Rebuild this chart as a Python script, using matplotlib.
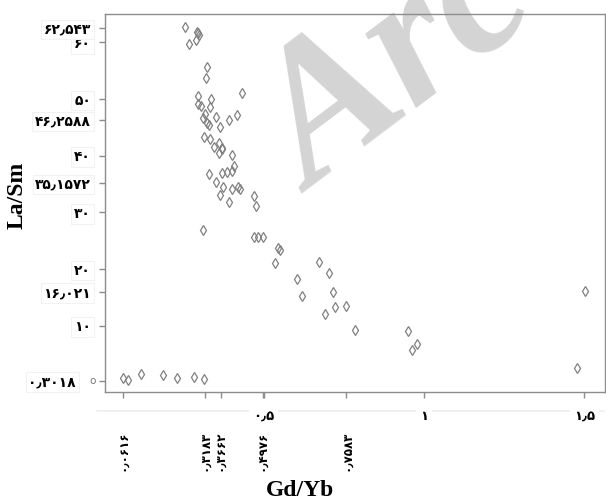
import matplotlib
matplotlib.use('Agg')
import matplotlib.pyplot as plt

plt.rcParams['font.family'] = ['DejaVu Sans']

# Gd/Yb vs La/Sm
gd_yb = [0.255, 0.294, 0.297, 0.300, 0.289, 0.269, 0.323, 0.320, 0.434, 0.297,
         0.336, 0.296, 0.305, 0.334, 0.319, 0.312, 0.352, 0.417, 0.393, 0.323,
         0.329, 0.364, 0.315, 0.333, 0.362, 0.347, 0.370, 0.372, 0.361, 0.401,
         0.408, 0.331, 0.372, 0.385, 0.403, 0.351, 0.375, 0.403, 0.420, 0.428,
         0.364, 0.470, 0.393, 0.476, 0.312,
         0.470, 0.484, 0.498, 0.546, 0.551, 0.536, 0.673, 0.705, 0.603, 0.716,
         0.619, 0.723, 0.757, 0.692, 0.785, 0.950, 0.962, 0.979, 1.477, 1.502,
         0.061, 0.077, 0.117, 0.188, 0.230, 0.284, 0.315]
la_sm = [62.65, 61.87, 61.59, 61.29, 60.41, 59.65, 55.59, 53.65, 51.01, 50.53,
         50.00, 49.12, 48.76, 48.64, 47.30, 46.59, 46.77, 47.23, 46.30, 45.82,
         45.36, 45.01, 43.35, 42.89, 42.29, 41.58, 41.30, 41.18, 40.42, 40.07,
         38.23, 36.72, 37.00, 37.17, 37.30, 35.30, 34.53, 34.12, 34.53, 34.12,
         33.06, 32.94, 31.88, 31.12, 26.90,
         25.71, 25.71, 25.60, 23.66, 23.36, 21.12, 21.30, 19.25, 18.24, 16.00,
         15.30, 13.25, 13.48, 12.01, 9.19, 9.07, 5.66, 6.72, 2.54, 16.13,
         0.72, 0.42, 1.48, 1.31, 0.72, 0.90, 0.55]

y_ticks = [0.3018, 10, 16.021, 20, 30, 35.1572, 40, 46.2588, 50, 60, 62.543]
y_labels = ['۰٫۳۰۱۸', '۱۰', '۱۶٫۰۲۱', '۲۰', '۳۰', '۳۵٫۱۵۷۲', '۴۰', '۴۶٫۲۵۸۸',
            '۵۰', '۶۰', '۶۲٫۵۴۳']
x_ticks_rot = [0.0616, 0.3183, 0.3662, 0.4976, 0.7583]
x_labels_rot = ['۰٫۰۶۱۶', '۰٫۳۱۸۳', '۰٫۳۶۶۲', '۰٫۴۹۷۶', '۰٫۷۵۸۳']
x_ticks_main = [0.5, 1, 1.5]
x_labels_main = ['۰٫۵', '۱', '۱٫۵']

fig = plt.figure(figsize=(6.06, 5.03), dpi=100)
ax = fig.add_axes([105 / 606, 111 / 503, 500 / 606, 378 / 503])

ax.plot(gd_yb, la_sm, linestyle='none', marker='d', markersize=4.6,
        markerfacecolor='none', markeredgecolor='#808080', markeredgewidth=0.9, zorder=2)

ax.set_xlim(0.006, 1.564)
ax.set_ylim(-1.7, 65.0)

for s in ax.spines.values():
    s.set_color('#8c8c8c')
    s.set_linewidth(1.0)

ax.set_yticks(y_ticks)
ax.set_yticklabels(y_labels, fontsize=10, fontweight='bold')
for lab in ax.get_yticklabels():
    lab.set_bbox(dict(facecolor='white', edgecolor='#f2f2f2', linewidth=0.8, pad=2))
ax.tick_params(axis='y', direction='out', length=4, width=1, color='#8c8c8c', pad=6)
# the lowest label sits further left, with a small "o" beside it
ax.get_yticklabels()[0].set_x(-0.03)

ax.set_xticks(x_ticks_rot)
ax.set_xticklabels(x_labels_rot, rotation=90, fontsize=8.5, fontweight='bold')
ax.set_xticks(x_ticks_main, minor=True)
ax.set_xticklabels(x_labels_main, minor=True, fontsize=9.5, fontweight='bold')
for lab in ax.get_xticklabels(minor=True):
    lab.set_bbox(dict(facecolor='white', edgecolor='none', pad=3))
ax.tick_params(axis='x', which='major', direction='out', length=4, width=1,
               color='#8c8c8c', pad=24)
ax.tick_params(axis='x', which='minor', direction='out', length=4, width=1,
               color='#8c8c8c', pad=9)

# faint rule behind the lower tick labels
ax.plot([-0.02, 1.56], [-5.0, -5.0], color='#eeeeee', linewidth=1.2,
        clip_on=False, zorder=0)

fig.text(17 / 606, 1 - 195 / 503, 'La/Sm', family='Liberation Serif',
         fontweight='bold', fontsize=17, rotation=90, ha='center', va='center')
fig.text(300 / 606, 1 - 490 / 503, 'Gd/Yb', family='Liberation Serif',
         fontweight='bold', fontsize=17, ha='center', va='center')

# stray zero marker left of the y axis
fig.text(93 / 606, 1 - 381 / 503, 'o', color='#777777', fontsize=7.5,
         ha='center', va='center')

# watermark
ax.text(312 / 606, 1 - 194 / 503, 'Arc', transform=fig.transFigure,
        family='Liberation Serif', fontweight='bold', style='italic',
        fontsize=140, color='#d4d4d4', rotation=37, rotation_mode='anchor',
        ha='left', va='baseline', clip_on=False, zorder=0.5)

fig.savefig('out.png', dpi=100)
